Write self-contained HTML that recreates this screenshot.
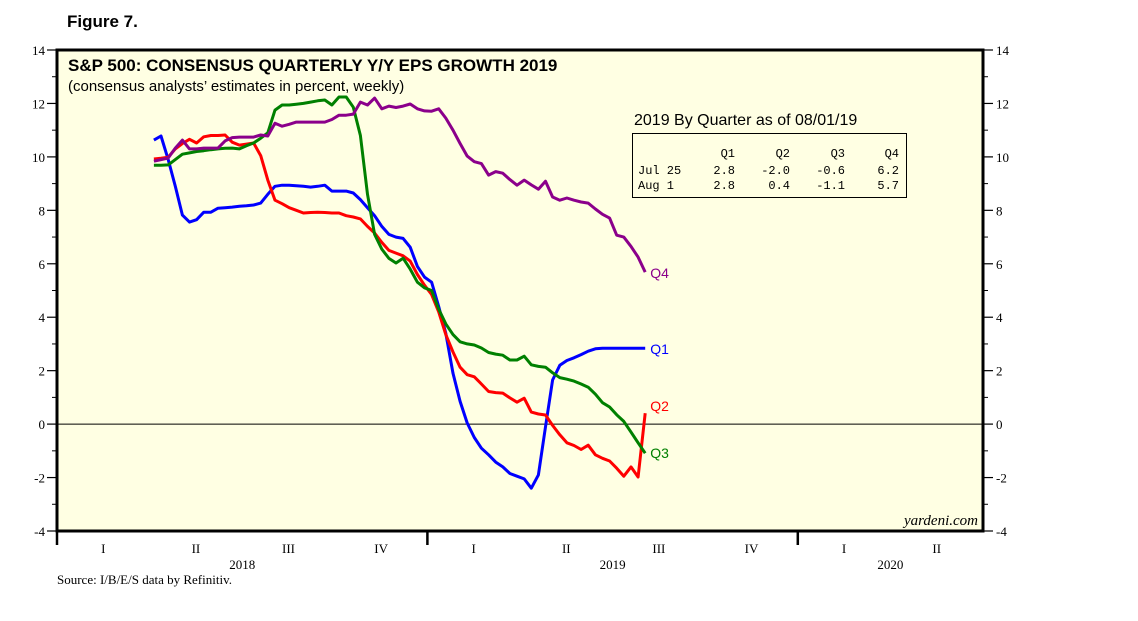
<!DOCTYPE html>
<html><head><meta charset="utf-8"><style>
body{margin:0;background:#fff;}
svg{display:block;font-family:"Liberation Sans",sans-serif;}
</style></head><body>
<svg id="chart" width="1138" height="621" viewBox="0 0 1138 621" xmlns="http://www.w3.org/2000/svg">
<text x="67" y="27" font-size="17" font-weight="bold">Figure 7.</text>
<rect x="57" y="50" width="926" height="481" fill="#ffffe3" stroke="#000" stroke-width="3"/>
<text x="68" y="71" font-size="17" font-weight="bold">S&amp;P 500: CONSENSUS QUARTERLY Y/Y EPS GROWTH 2019</text>
<text x="68" y="91" font-size="15">(consensus analysts’ estimates in percent, weekly)</text>
<g id="axes"></g>
<g id="series"></g>
<text x="634" y="125" font-size="16">2019 By Quarter as of 08/01/19</text>
<rect x="632.5" y="133.5" width="274" height="64" fill="#ffffe3" stroke="#000" stroke-width="1"/>
<g font-family="Liberation Mono, monospace" font-size="12" xml:space="preserve">
<text x="735" y="157" text-anchor="end">Q1</text><text x="790" y="157" text-anchor="end">Q2</text><text x="845" y="157" text-anchor="end">Q3</text><text x="899" y="157" text-anchor="end">Q4</text>
<text x="638" y="174">Jul 25</text><text x="735" y="174" text-anchor="end">2.8</text><text x="790" y="174" text-anchor="end">-2.0</text><text x="845" y="174" text-anchor="end">-0.6</text><text x="899" y="174" text-anchor="end">6.2</text>
<text x="638" y="189">Aug  1</text><text x="735" y="189" text-anchor="end">2.8</text><text x="790" y="189" text-anchor="end">0.4</text><text x="845" y="189" text-anchor="end">-1.1</text><text x="899" y="189" text-anchor="end">5.7</text>
</g>
<text x="978" y="525" font-size="15" font-style="italic" text-anchor="end" font-family="Liberation Serif, serif">yardeni.com</text>
<text x="57" y="584" font-size="13" font-family="Liberation Serif, serif">Source: I/B/E/S data by Refinitiv.</text>
</svg>
<script>
const yTicks=[-4,-2,0,2,4,6,8,10,12,14];
const quarterLabels=["I","II","III","IV","I","II","III","IV","I","II"];
const yearLabels=["2018","2019","2020"];
const seriesNames=["Q1","Q2","Q3","Q4"];
const q1=[10.63,10.78,9.9,8.9,7.82,7.56,7.65,7.93,7.93,8.08,8.1,8.12,8.15,8.17,8.2,8.27,8.6,8.9,8.94,8.94,8.92,8.9,8.87,8.9,8.94,8.72,8.72,8.72,8.65,8.4,8.1,7.8,7.4,7.1,7.0,6.95,6.62,5.9,5.5,5.31,4.4,3.4,1.9,0.85,0.04,-0.5,-0.9,-1.15,-1.42,-1.6,-1.85,-1.95,-2.05,-2.4,-1.9,-0.1,1.65,2.2,2.38,2.48,2.6,2.73,2.82,2.84,2.84,2.84,2.84,2.84,2.84,2.84];
const q2=[9.92,9.95,9.99,10.3,10.5,10.66,10.52,10.75,10.8,10.8,10.82,10.55,10.44,10.48,10.52,10.05,9.13,8.38,8.25,8.1,8.0,7.9,7.92,7.93,7.92,7.9,7.9,7.8,7.75,7.68,7.4,7.15,6.8,6.5,6.4,6.3,6.1,5.6,5.2,4.85,4.2,3.35,2.7,2.13,1.85,1.77,1.5,1.22,1.18,1.16,0.98,0.82,0.97,0.45,0.38,0.34,-0.05,-0.4,-0.7,-0.8,-0.95,-0.79,-1.15,-1.28,-1.38,-1.65,-1.95,-1.6,-1.98,0.41];
const q3=[9.69,9.69,9.7,9.9,10.1,10.15,10.2,10.23,10.27,10.3,10.32,10.33,10.3,10.42,10.52,10.7,10.9,11.75,11.94,11.94,11.97,12.0,12.05,12.1,12.13,11.94,12.24,12.24,11.86,10.8,8.6,7.1,6.55,6.2,6.03,6.21,5.8,5.31,5.1,5.0,4.3,3.75,3.35,3.08,3.0,2.96,2.85,2.68,2.62,2.58,2.4,2.4,2.54,2.22,2.16,2.13,1.92,1.74,1.68,1.61,1.5,1.38,1.12,0.8,0.64,0.35,0.1,-0.3,-0.7,-1.09];
const q4=[9.84,9.9,9.96,10.33,10.63,10.3,10.3,10.33,10.33,10.33,10.6,10.72,10.74,10.74,10.74,10.82,10.78,11.26,11.15,11.22,11.3,11.3,11.3,11.3,11.3,11.4,11.56,11.56,11.6,12.05,11.94,12.2,11.8,11.9,11.85,11.9,11.98,11.8,11.72,11.71,11.8,11.45,11.0,10.5,10.03,9.82,9.75,9.32,9.45,9.39,9.15,8.94,9.13,8.95,8.79,9.09,8.5,8.38,8.46,8.38,8.31,8.27,8.05,7.85,7.71,7.07,7.0,6.65,6.25,5.69];

const NS="http://www.w3.org/2000/svg";
const L=57,R=983,T=50,B=531,YMIN=-4,YMAX=14;
const y=v=>B-(v-YMIN)/(YMAX-YMIN)*(B-T);
const monthW=(R-L)/30;
const startMonth=3.14;
const weekW=7.12/monthW;
const x=i=>L+(startMonth+i*weekW)*monthW;
function mk(tag,attrs,parent){const e=document.createElementNS(NS,tag);for(const k in attrs)e.setAttribute(k,attrs[k]);parent.appendChild(e);return e;}
const axes=document.getElementById('axes'),ser=document.getElementById('series');

yTicks.forEach(v=>{
  const yy=y(v);
  const t1=mk('line',{x1:47,x2:57,y1:yy,y2:yy,stroke:'#000','stroke-width':1.2},axes);
  
  
  const t2=mk('line',{x1:983,x2:993,y1:yy,y2:yy,stroke:'#000','stroke-width':1.2},axes);
  
  
  if(v<YMAX){const ym=y(v+1);
    const m1=mk('line',{x1:52,x2:57,y1:ym,y2:ym,stroke:'#000','stroke-width':1},axes);
    
    
    const m2=mk('line',{x1:983,x2:988,y1:ym,y2:ym,stroke:'#000','stroke-width':1},axes);
    
    }
  const a=mk('text',{x:45,y:yy+5,'text-anchor':'end','font-size':13,'font-family':'Liberation Serif, serif'},axes);a.textContent=v;
  
  
  const b=mk('text',{x:996,y:yy+5,'font-size':13,'font-family':'Liberation Serif, serif'},axes);b.textContent=v;
  
  
});
const z=mk('line',{x1:L,x2:R,y1:y(0),y2:y(0),stroke:'#000','stroke-width':1},axes);


quarterLabels.forEach((q,i)=>{
  const t=mk('text',{x:L+(i+0.5)*3*monthW,y:553,'text-anchor':'middle','font-size':13,'font-family':'Liberation Serif, serif'},axes);t.textContent=q;
  
  
});
yearLabels.forEach((yr,i)=>{
  const x0=L+i*12*monthW;
  const tk=mk('line',{x1:x0,x2:x0,y1:531,y2:545,stroke:'#000','stroke-width':2.5},axes);
  
  
  const t=mk('text',{x:x0+(i<2?6:3)*monthW,y:569,'text-anchor':'middle','font-size':13,'font-family':'Liberation Serif, serif'},axes);t.textContent=yr;
  
  
});
const cols=['#0000ff','#ff0000','#008000','#8b008b'];
[q1,q2,q3,q4].forEach((arr,s)=>{
  const d=arr.map((v,i)=>(i?'L':'M')+x(i).toFixed(1)+','+y(v).toFixed(1)).join('');
  const p=mk('path',{d:d,fill:'none',stroke:cols[s],'stroke-width':3,'stroke-linejoin':'round'},ser);
  
  
  const last=arr[arr.length-1];
  let ly=y(last)+6; if(s===1) ly=y(last)-2; if(s===2) ly=y(last)+5;
  const t=mk('text',{x:x(arr.length-1)+5,y:ly,'font-size':14,fill:cols[s]},ser);t.textContent=seriesNames[s];
  
  
});
</script>
</body></html>
